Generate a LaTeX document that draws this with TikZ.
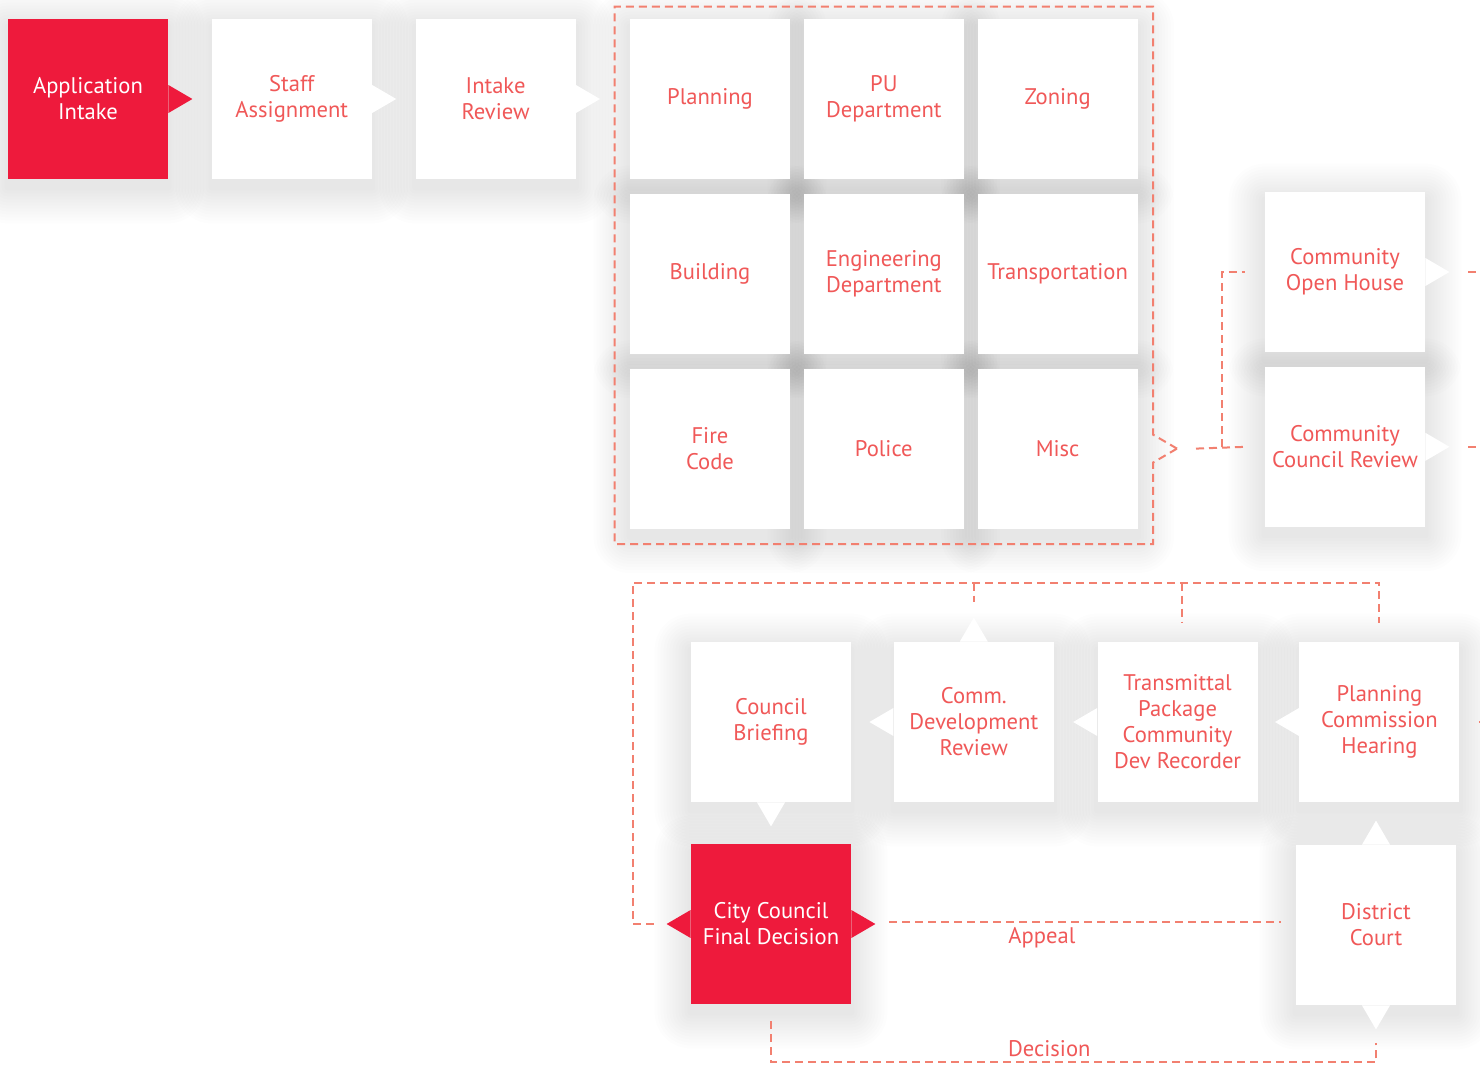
\documentclass[tikz,border=0pt]{standalone}
\usepackage{fontspec}
\setmainfont{PT Sans}
\usetikzlibrary{positioning,calc,backgrounds}

\definecolor{brandred}{RGB}{238,26,60}
\definecolor{txtred}{RGB}{240,88,88}
\definecolor{dashred}{RGB}{242,128,112}

\tikzset{
  card/.style={fill=white, minimum width=80pt, minimum height=80pt,
    inner sep=0pt, align=center, text=txtred,
    font=\fontsize{11.3}{13}\selectfont},
  hotcard/.style={card, fill=brandred, text=white},
  flow/.style={dashred, line width=1pt, dash pattern=on 4pt off 2.5pt},
  halo/.style={fill=black, fill opacity=0.0065},
  label/.style={text=txtred, font=\fontsize{11.3}{13}\selectfont},
  pics/notch/.style={code={\fill[#1] (0,-14) -- (24,0) -- (0,14) -- cycle;}},
  pics/notch/.default=white,
}

\begin{document}
\begin{tikzpicture}[x=0.5pt,y=-0.5pt]
  \useasboundingbox (0,0) rectangle (1480,1066);

  % intake row
  \node[hotcard] (app) at (88,99) {Application\\Intake};
  \node[card, right=21.5pt of app] (staff) {Staff\\Assignment};
  \node[card, right=21.5pt of staff] (intake) {Intake\\Review};

  % department grid
  \node[card] (plan) at (710,99) {Planning};
  \node[card, right=6.5pt of plan] (pud) {PU\\Department};
  \node[card, right=6.5pt of pud] (zon) {Zoning};
  \node[card, below=7pt of plan] (bld) {Building};
  \node[card, right=6.5pt of bld] (eng) {Engineering\\Department};
  \node[card, right=6.5pt of eng] (trn) {Transportation};
  \node[card, below=7pt of bld] (fire) {Fire\\Code};
  \node[card, right=6.5pt of fire] (pol) {Police};
  \node[card, right=6.5pt of pol] (misc) {Misc};

  % community
  \node[card] (coh) at (1345,272) {Community\\Open House};
  \node[card, below=7pt of coh] (ccr) {Community\\Council Review};

  % council row
  \node[card] (cbr) at (771,722) {Council\\Briefing};
  \node[card, right=21pt of cbr] (cdr) {Comm.\\Development\\Review};
  \node[card, right=21.5pt of cdr] (tpc) {Transmittal\\Package\\Community\\Dev Recorder};
  \node[card, right=20.5pt of tpc] (pch) {Planning\\Commission\\Hearing};
  \node[hotcard] (ccf) at (771,924) {City Council\\Final Decision};
  \node[card] (dct) at (1376,925) {District\\Court};

  % soft shadows
  \begin{scope}[on background layer]
    \fill[white] (0,0) rectangle (1480,1066);
    \foreach \n in {app,staff,intake,plan,pud,zon,bld,eng,trn,fire,pol,misc,
                    coh,ccr,cbr,cdr,tpc,pch,ccf,dct}
      \foreach \r in {3,6,...,36}
        \fill[halo, rounded corners=\r*0.5pt]
          ($(\n.north west)+(-\r,-\r+8)$) rectangle ($(\n.south east)+(\r,\r+8)$);
  \end{scope}

  % notches
  \pic at (app.east) {notch=brandred};
  \pic at (staff.east) {notch};
  \pic at (intake.east) {notch};
  \pic at (coh.east) {notch};
  \pic at (ccr.east) {notch};
  \pic[rotate=180] at (cdr.west) {notch};
  \pic[rotate=90] at (cdr.north) {notch};
  \pic[rotate=180] at (tpc.west) {notch};
  \pic[rotate=180] at (pch.west) {notch};
  \pic[rotate=-90] at (cbr.south) {notch};
  \pic[rotate=180] at (ccf.west) {notch=brandred};
  \pic at (ccf.east) {notch=brandred};
  \pic[rotate=90] at (dct.north) {notch};
  \pic[rotate=-90] at (dct.south) {notch};

  % frame round the grid
  \coordinate (fnw) at ($(plan.north west)+(-15,-12)$);
  \coordinate (fse) at ($(misc.south east)+(15,15)$);
  \coordinate (ftip) at ($(misc.east)+(39,0)$);
  \draw[flow] (ftip) -- ++(-24,-14) |- (fnw) |- (fse)
    -- ($(ftip)+(-24,14)$) -- cycle;

  % to community
  \draw[flow] ($(ftip)+(19,0)$) -- ($(ccr.west)+(-18,0)$);
  \draw[flow] ($(ccr.west)+(-43,0)$) |- ($(coh.west)+(-20,0)$);
  \draw[flow] ($(coh.east)+(43,0)$) -- ++(12,0);
  \draw[flow] ($(ccr.east)+(43,0)$) -- ++(12,0);
  \draw[flow] ($(pch.east)+(19,0)$) -- ++(5,0);

  % loop back
  \draw[flow] ($(ccf.west)+(-37,0)$) -- ($(ccf.west)+(-58,0)$)
    |- ($(pch.north)+(0,-59)$) -- ($(pch.north)+(0,-19)$);
  \draw[flow] ($(cdr.north)+(0,-59)$) -- ($(cdr.north)+(0,-40)$);
  \draw[flow] ($(tpc.north)+(4,-59)$) -- ($(tpc.north)+(4,-19)$);

  % appeal
  \draw[flow] ($(ccf.east)+(38,-2)$) -- ($(dct.west)+(-15,-3)$)
    node[pos=0.39, below=-1pt, label] (appeal) {Appeal};
  \draw[flow] ($(ccf.south)+(0,17)$) |- ($(dct.south)+(0,57)$)
    node[pos=0.73, above=-1pt, label] (decision) {Decision}
    -- ($(dct.south)+(0,38)$);
\end{tikzpicture}
\end{document}
